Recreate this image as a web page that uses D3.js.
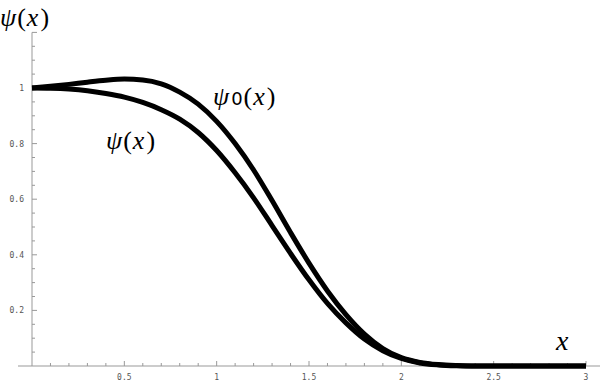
<!DOCTYPE html>
<html><head><meta charset="utf-8">
<script src="https://cdn.jsdelivr.net/npm/d3@7"></script>
<style>body{margin:0;background:#fff}svg{display:block}</style>
</head><body><svg id="c" width="600" height="382"></svg>
<script>
const xs = [0,0.1,0.2,0.3,0.4,0.5,0.6,0.7,0.8,0.9,1.0,1.1,1.2,1.3,1.4,1.5,1.6,1.7,1.8,1.9,2.0,2.1,2.2,2.3,2.4,2.5,2.6,2.7,2.8,2.9,3.0];
const psi0 = [1.0,1.006,1.013,1.021,1.028,1.032,1.029,1.015,0.985,0.942,0.88,0.80,0.705,0.595,0.48,0.37,0.27,0.185,0.115,0.063,0.03,0.013,0.005,0.0015,0,0,0,0,0,0,0];
const psi  = [1.0,0.999,0.996,0.99,0.98,0.967,0.948,0.922,0.888,0.84,0.775,0.695,0.605,0.505,0.405,0.31,0.225,0.155,0.097,0.055,0.027,0.011,0.004,0.001,0,0,0,0,0,0,0];
const xMajor = [0.5,1,1.5,2,2.5,3];
const yMajor = [0.2,0.4,0.6,0.8,1];

const svg = d3.select("#c");
const x = d3.scaleLinear().domain([0,3]).range([32,586]);
const y = d3.scaleLinear().domain([0,1]).range([366,88]);
const axisCol = "#999";

svg.append("line").attr("x1",18).attr("x2",600).attr("y1",y(0)).attr("y2",y(0)).attr("stroke",axisCol).attr("stroke-width",1);
svg.append("line").attr("x1",x(0)).attr("x2",x(0)).attr("y1",y(1.2)).attr("y2",y(0)).attr("stroke",axisCol).attr("stroke-width",1);

const xt = d3.range(1,31).map(i=>i/10);
svg.selectAll(".xt").data(xt).enter().append("line")
  .attr("x1",d=>x(d)).attr("x2",d=>x(d))
  .attr("y1",y(0)).attr("y2",d=>y(0)-(Math.abs(d*2-Math.round(d*2))<1e-6?5:3))
  .attr("stroke",axisCol);
const yt = d3.range(1,25).map(i=>i/20);
svg.selectAll(".yt").data(yt).enter().append("line")
  .attr("y1",d=>y(d)).attr("y2",d=>y(d))
  .attr("x1",x(0)).attr("x2",d=>x(0)+(Math.abs(d*5-Math.round(d*5))<1e-6?5:3))
  .attr("stroke",axisCol);

svg.selectAll(".xl").data(xMajor).enter().append("text")
  .attr("x",d=>x(d)).attr("y",380).attr("text-anchor","middle")
  .attr("font-family","DejaVu Sans Mono").attr("font-size",8).attr("fill","#555")
  .text(d=>String(d));
svg.selectAll(".yl").data(yMajor).enter().append("text")
  .attr("x",24).attr("y",d=>y(d)+3).attr("text-anchor","end")
  .attr("font-family","DejaVu Sans Mono").attr("font-size",8).attr("fill","#555")
  .text(d=>String(d));

const line = d3.line().x((d,i)=>x(xs[i])).y(d=>y(d)).curve(d3.curveMonotoneX);
[psi0,psi].forEach(s=>{
  svg.append("path").attr("d",line(s)).attr("fill","none").attr("stroke","#000")
    .attr("stroke-width",5).attr("stroke-linejoin","round");
});

const mf = "Liberation Serif";
function mathLabel(px,py,sub){
  const t = svg.append("text").attr("x",px).attr("y",py).attr("font-family",mf).attr("font-size",26).attr("fill","#000");
  t.append("tspan").attr("font-style","italic").text("ψ");
  if(sub) t.append("tspan").attr("font-family","DejaVu Sans").attr("font-size",18).attr("dx",2).text(sub);
  t.append("tspan").attr("dx",1).text("(");
  t.append("tspan").attr("font-style","italic").attr("dx",1).text("x");
  t.append("tspan").attr("dx",2).text(")");
}
mathLabel(0,26,null);
mathLabel(213,105,"0");
mathLabel(106,149,null);
svg.append("text").attr("x",556).attr("y",350).attr("font-family",mf).attr("font-style","italic").attr("font-size",28).text("x");
</script></body></html>
